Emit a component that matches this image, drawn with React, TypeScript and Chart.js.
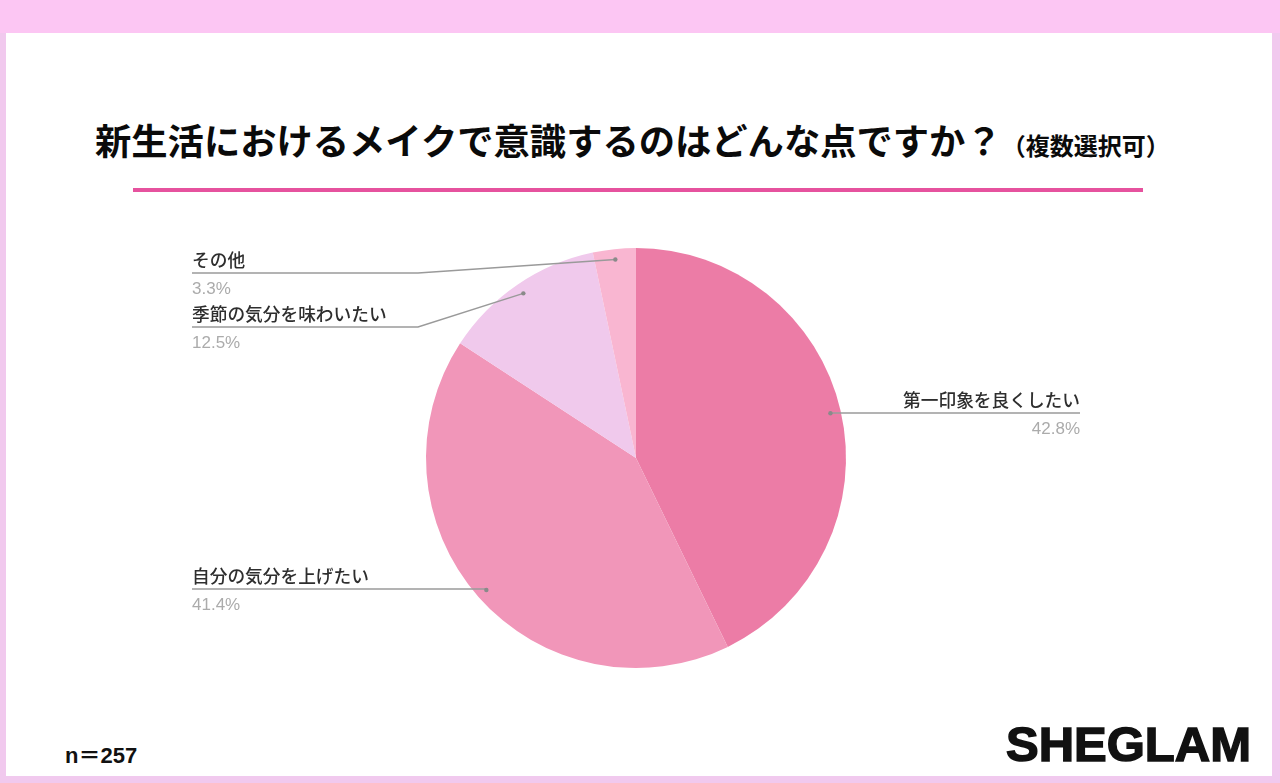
import React, { useEffect, useRef } from "react";
import { Chart, registerables } from "chart.js";

Chart.register(...registerables);

const categories = ["第一印象を良くしたい", "自分の気分を上げたい", "季節の気分を味わいたい", "その他"];
const values = [42.8, 41.4, 12.5, 3.3];
const sliceColors = ["#EC7CA6", "#F196B9", "#F0C9EC", "#F9B6D1"];
const titleMain = "新生活におけるメイクで意識するのはどんな点ですか？";
const titleSub = "（複数選択可）";
const sampleNote = "n＝257";
const brand = "SHEGLAM";

// label layout per slice (positions only)
const labelLayout = [
  { align: "right", textX: 1080, lineY: 413, elbowX: null as number | null },
  { align: "left", textX: 192, lineY: 589, elbowX: null as number | null },
  { align: "left", textX: 192, lineY: 327, elbowX: 418 },
  { align: "left", textX: 192, lineY: 273, elbowX: 418 },
];

const leaderPlugin = {
  id: "leaderLabels",
  afterDatasetsDraw(chart: any) {
    const ctx = chart.ctx;
    const meta = chart.getDatasetMeta(0);
    meta.data.forEach((arc: any, i: number) => {
      const lay = labelLayout[i];
      const mid = (arc.startAngle + arc.endAngle) / 2;
      const r = arc.outerRadius * 0.95;
      const dx = arc.x + Math.cos(mid) * r;
      const dy = arc.y + Math.sin(mid) * r;
      ctx.save();
      ctx.strokeStyle = "#9a9a9a";
      ctx.lineWidth = 1.5;
      ctx.beginPath();
      ctx.moveTo(dx, dy);
      const ex = lay.elbowX == null ? dx : lay.elbowX;
      ctx.lineTo(ex, lay.lineY);
      ctx.lineTo(lay.textX, lay.lineY);
      ctx.stroke();
      ctx.fillStyle = "#8a8a8a";
      ctx.beginPath();
      ctx.arc(dx, dy, 2.2, 0, Math.PI * 2);
      ctx.fill();
      ctx.textAlign = lay.align;
      ctx.textBaseline = "alphabetic";
      ctx.fillStyle = "#2e2e2e";
      ctx.font = "500 17.7px 'Noto Sans CJK JP'";
      ctx.fillText(categories[i], lay.textX, lay.lineY - 6);
      ctx.fillStyle = "#ababab";
      ctx.font = "17px 'Liberation Sans', 'Noto Sans CJK JP'";
      ctx.fillText(values[i].toFixed(1) + "%", lay.textX, lay.lineY + 21);
      ctx.restore();
    });
  },
};

export default function App() {
  const ref = useRef<HTMLCanvasElement | null>(null);
  useEffect(() => {
    document.body.style.margin = "0";
    const chart = new Chart(ref.current as HTMLCanvasElement, {
      type: "pie",
      data: {
        labels: categories,
        datasets: [{ data: values, backgroundColor: sliceColors, borderWidth: 0 }],
      },
      options: {
        animation: false,
        responsive: false,
        events: [],
        layout: { padding: { left: 426, right: 434, top: 248, bottom: 115 } },
        plugins: { legend: { display: false }, tooltip: { enabled: false } },
      },
      plugins: [leaderPlugin],
    });
    return () => chart.destroy();
  }, []);

  return (
    <div style={{ position: "fixed", left: 0, top: 0, width: 1280, height: 783, background: "#F1C9EE", overflow: "hidden" }}>
      <div style={{ position: "absolute", left: 0, top: 0, width: 1280, height: 33, background: "#FCC6F3" }} />
      <div style={{ position: "absolute", left: 6, top: 33, width: 1266, height: 743, background: "#FFFFFF" }} />
      <div
        style={{
          position: "absolute",
          left: 95,
          top: 115,
          whiteSpace: "nowrap",
          fontFamily: "'Noto Sans CJK JP'",
          fontWeight: 700,
          color: "#0a0a0a",
          lineHeight: "48px",
        }}
      >
        <span style={{ fontSize: 36.3 }}>{titleMain}</span>
        <span style={{ fontSize: 24 }}>{titleSub}</span>
      </div>
      <div style={{ position: "absolute", left: 133, top: 188, width: 1010, height: 4, background: "#E6529E" }} />
      <div
        style={{
          position: "absolute",
          left: 65,
          top: 737,
          fontFamily: "'Liberation Sans', 'Noto Sans CJK JP'",
          fontWeight: 700,
          fontSize: 22,
          color: "#111",
          whiteSpace: "nowrap",
        }}
      >
        {sampleNote}
      </div>
      <div
        style={{
          position: "absolute",
          left: 1006,
          top: 716,
          fontFamily: "'Liberation Sans'",
          fontWeight: 700,
          fontSize: 49,
          color: "#111",
          whiteSpace: "nowrap",
          lineHeight: "56px",
          WebkitTextStroke: "1.5px #111",
        }}
      >
        {brand}
      </div>
      <canvas ref={ref} width={1280} height={783} style={{ position: "absolute", left: 0, top: 0, width: 1280, height: 783 }} />
    </div>
  );
}
